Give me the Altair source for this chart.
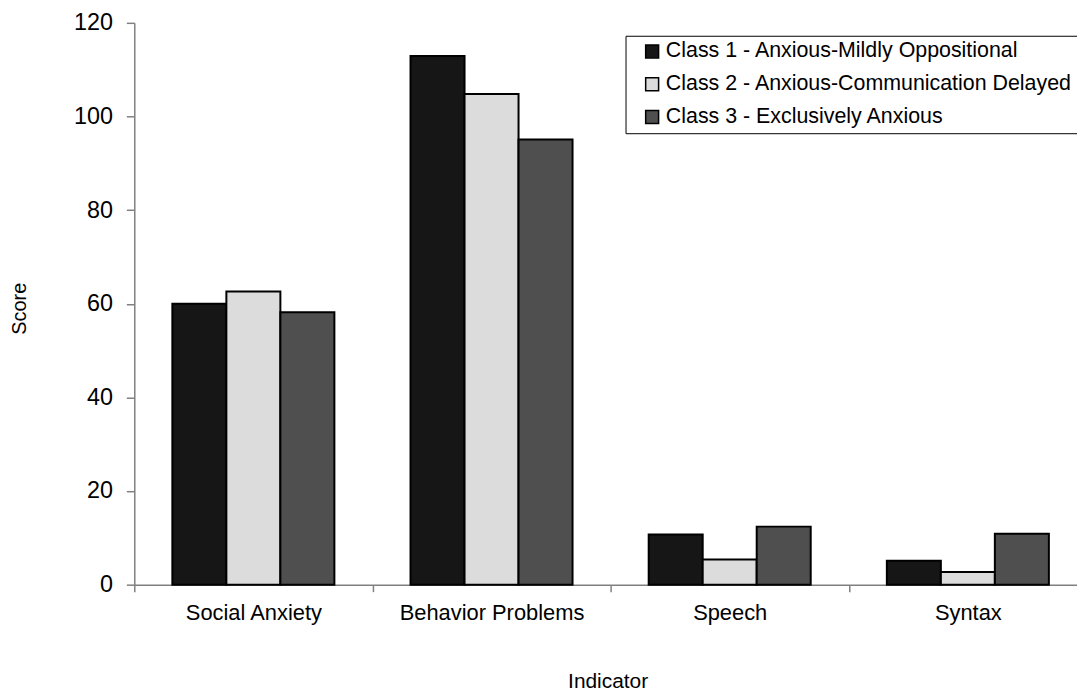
import altair as alt
import pandas as pd

categories = ["Social Anxiety", "Behavior Problems", "Speech", "Syntax"]
classes = [
    "Class 1 - Anxious-Mildly Oppositional",
    "Class 2 - Anxious-Communication Delayed",
    "Class 3 - Exclusively Anxious",
]
class1 = [60.0, 112.9, 10.7, 5.1]
class2 = [62.6, 104.8, 5.4, 2.7]
class3 = [58.2, 95.1, 12.4, 10.9]
colors = ["#161616", "#dcdcdc", "#4f4f4f"]

rows = []
for series_name, vals in zip(classes, [class1, class2, class3]):
    for cat, v in zip(categories, vals):
        rows.append({"Indicator": cat, "Class": series_name, "Score": v})
df = pd.DataFrame(rows)

FONT = "Liberation Sans"

chart = (
    alt.Chart(df)
    .mark_bar(stroke="black", strokeWidth=2)
    .encode(
        x=alt.X(
            "Indicator:N",
            sort=categories,
            scale=alt.Scale(paddingInner=0, paddingOuter=0, range=[0, 958]),
            axis=alt.Axis(
                title="Indicator",
                labelAngle=0,
                labelFontSize=22,
                labelPadding=11,
                labelLimit=400,
                tickSize=7,
                tickBand="extent",
                titleFontSize=21,
                titleFontWeight="normal",
                titleX=476,
                titleY=103,
                titleBaseline="alphabetic",
            ),
        ),
        xOffset=alt.XOffset(
            "Class:N",
            sort=classes,
            scale=alt.Scale(paddingInner=0, paddingOuter=0.705),
        ),
        y=alt.Y(
            "Score:Q",
            scale=alt.Scale(domain=[0, 120]),
            axis=alt.Axis(
                title="Score",
                values=[0, 20, 40, 60, 80, 100, 120],
                labelFontSize=23.5,
                labelPadding=14,
                tickSize=8,
                titleFontSize=20,
                titleFontWeight="normal",
                titleX=-115,
                titleY=287,
                titleAlign="center",
                titleBaseline="middle",
            ),
        ),
        fill=alt.Fill(
            "Class:N",
            sort=classes,
            scale=alt.Scale(domain=classes, range=colors),
            legend=alt.Legend(
                title=None,
                orient="none",
                legendX=494,
                legendY=13,
                direction="vertical",
                symbolType="square",
                symbolSize=169,
                symbolStrokeColor="black",
                symbolStrokeWidth=1.5,
                symbolOpacity=1,
                labelFontSize=21.5,
                labelLimit=600,
                labelOffset=3,
                rowPadding=10,
                padding=5,
                symbolOffset=11,
                strokeColor="black",
                fillColor="white",
            ),
        ),
    )
    .properties(
        width=948,
        height=565,
        autosize=alt.AutoSizeParams(type="none"),
        padding={"left": 127, "top": 13, "right": 0, "bottom": 105},
    )
    .configure(font=FONT)
    .configure_view(stroke=None)
    .configure_axis(
        grid=False,
        domainColor="#808080",
        domainWidth=1.5,
        tickColor="#808080",
        tickWidth=1.5,
        labelColor="black",
        titleColor="black",
        labelFont=FONT,
        titleFont=FONT,
    )
    .configure_legend(labelFont=FONT, labelColor="black")
)

chart.save("out.html", embed_options={"renderer": "svg", "actions": False})
